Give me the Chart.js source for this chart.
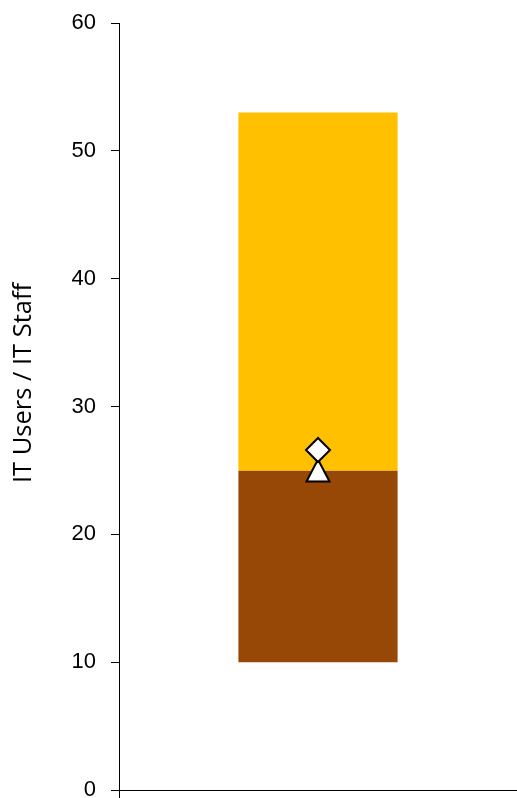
<!DOCTYPE html>
<html>
<head>
<meta charset="utf-8">
<title>IT Users / IT Staff</title>
<script src="https://cdn.jsdelivr.net/npm/chart.js@4/dist/chart.umd.min.js"></script>
<style>
  html, body { margin: 0; padding: 0; background: #ffffff; overflow: hidden; }
  #wrap { width: 517px; height: 798px; }
  canvas { display: block; }
</style>
</head>
<body>
<div id="wrap"><canvas id="chart" width="517" height="798"></canvas></div>
<script>
// Single peer-group category
const categories = [''];
// Lower band (floating bar from low to middle value)
const lowerBand = [[10, 25]];
// Upper band (floating bar from middle to high value)
const upperBand = [[25, 53]];
// Organisation's own ratio (diamond) and peer median (triangle)
const ownValue = [26.6];
const medianValue = [25];
// Y axis tick values
const yTicks = [0, 10, 20, 30, 40, 50, 60];
const axisTitle = 'IT Users / IT Staff';

// Triangle marker centred on its bounding box (white fill, black outline)
function makeTriangleMarker(w, h, lw) {
  const c = document.createElement('canvas');
  c.width = w;
  c.height = h;
  const g = c.getContext('2d');
  const p = lw / 2 + 0.5;
  g.beginPath();
  g.moveTo(w / 2, p);
  g.lineTo(w - p, h - p);
  g.lineTo(p, h - p);
  g.closePath();
  g.fillStyle = '#ffffff';
  g.fill();
  g.lineWidth = lw;
  g.lineJoin = 'miter';
  g.strokeStyle = '#000000';
  g.stroke();
  return c;
}
const triangleMarker = makeTriangleMarker(26, 25, 2);

// Rotated axis title drawn beside the value axis
const axisTitlePlugin = {
  id: 'axisTitle',
  afterDraw(chart) {
    const ctx = chart.ctx;
    ctx.save();
    ctx.translate(24, 383);
    ctx.rotate(-Math.PI / 2);
    ctx.font = '25.5px "Open Sans"';
    ctx.fillStyle = '#000000';
    ctx.textAlign = 'center';
    ctx.textBaseline = 'middle';
    ctx.fillText(axisTitle, 0, 0);
    ctx.restore();
  }
};

new Chart(document.getElementById('chart'), {
  type: 'bar',
  data: {
    labels: categories,
    datasets: [
      {
        type: 'line',
        data: ownValue,
        showLine: false,
        pointStyle: 'rectRot',
        pointRadius: 12,
        pointBackgroundColor: '#ffffff',
        pointBorderColor: '#000000',
        pointBorderWidth: 2,
        order: 0
      },
      {
        type: 'line',
        data: medianValue,
        showLine: false,
        pointStyle: triangleMarker,
        pointRadius: 13,
        order: 0
      },
      {
        data: upperBand,
        backgroundColor: '#FFC000',
        borderWidth: 0,
        grouped: false,
        barPercentage: 0.4,
        categoryPercentage: 1.0,
        order: 1
      },
      {
        data: lowerBand,
        backgroundColor: '#974706',
        borderWidth: 0,
        grouped: false,
        barPercentage: 0.4,
        categoryPercentage: 1.0,
        order: 1
      }
    ]
  },
  options: {
    responsive: false,
    animation: false,
    devicePixelRatio: 1,
    layout: { autoPadding: false, padding: { top: 23, right: 0, bottom: 0, left: 0 } },
    plugins: {
      legend: { display: false },
      tooltip: { enabled: false }
    },
    scales: {
      x: {
        offset: true,
        afterFit(scale) {
          scale.height = 8;
          scale.paddingLeft = 0;
          scale.paddingRight = 0;
          scale.paddingTop = 0;
          scale.paddingBottom = 0;
        },
        ticks: { display: false },
        grid: {
          display: true,
          drawOnChartArea: false,
          drawTicks: true,
          tickLength: 8,
          color: '#000000',
          lineWidth: 1
        },
        border: { display: true, color: '#000000', width: 1 }
      },
      y: {
        min: 0,
        max: 60,
        afterBuildTicks(scale) {
          scale.ticks = yTicks.map(v => ({ value: v }));
        },
        afterFit(scale) {
          scale.width = 119;
          scale.paddingLeft = 0;
          scale.paddingRight = 0;
          scale.paddingTop = 0;
          scale.paddingBottom = 0;
        },
        ticks: {
          padding: 15,
          color: '#000000',
          font: { family: '"Liberation Sans", Arial, sans-serif', size: 22 }
        },
        grid: {
          display: true,
          drawOnChartArea: false,
          drawTicks: true,
          tickLength: 8,
          color: '#000000',
          lineWidth: 1
        },
        border: { display: true, color: '#000000', width: 1 }
      }
    }
  },
  plugins: [axisTitlePlugin]
});
</script>
</body>
</html>
